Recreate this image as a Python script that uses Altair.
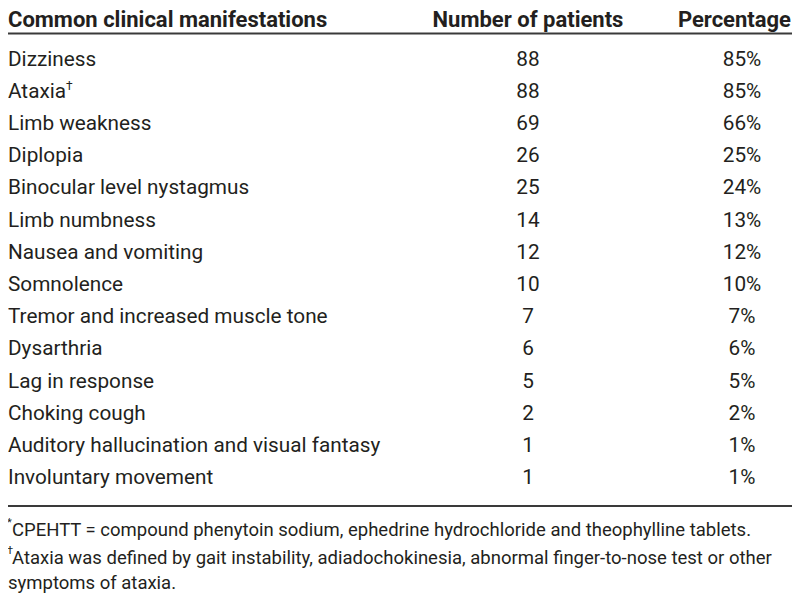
import altair as alt
import pandas as pd

# ---- data ----
headers = ["Common clinical manifestations", "Number of patients", "Percentage"]
manifestations = [
    "Dizziness", "Ataxia", "Limb weakness", "Diplopia", "Binocular level nystagmus",
    "Limb numbness", "Nausea and vomiting", "Somnolence",
    "Tremor and increased muscle tone", "Dysarthria", "Lag in response",
    "Choking cough", "Auditory hallucination and visual fantasy", "Involuntary movement",
]
patients = [88, 88, 69, 26, 25, 14, 12, 10, 7, 6, 5, 2, 1, 1]
percentages = ["85%", "85%", "66%", "25%", "24%", "13%", "12%", "10%", "7%", "6%", "5%", "2%", "1%", "1%"]
footnotes = [
    "CPEHTT = compound phenytoin sodium, ephedrine hydrochloride and theophylline tablets.",
    "Ataxia was defined by gait instability, adiadochokinesia, abnormal finger-to-nose test or other",
    "symptoms of ataxia.",
]
footnote_marks = ["*", "\u2020", ""]
footnote_rows = [14.612, 15.481, 16.258]
header_row = -1.242
rule_rows = [-0.807, 13.866]

W, H = 784, 587
FONT = "Roboto, Liberation Sans, sans-serif"
COLOR = "#231f20"

yscale = alt.Scale(domain=[-1.5994, 16.630], range=[0, H])

body = pd.DataFrame({
    "row": list(range(len(manifestations))),
    "name": manifestations,
    "n": [str(v) for v in patients],
    "pct": percentages,
})
hdr = pd.DataFrame({"row": [header_row] * 3, "text": headers, "col": [0, 1, 2]})
rules = pd.DataFrame({"row": rule_rows})
notes = pd.DataFrame({"row": footnote_rows, "text": footnotes, "mark": footnote_marks})

y = alt.Y("row:Q", scale=yscale, axis=None)

base_text = dict(font=FONT, color=COLOR, baseline="middle")
BODY_SIZE = 20.75
HEAD_SIZE = 22
NOTE_SIZE = 18.5

names = alt.Chart(body).mark_text(align="left", fontSize=BODY_SIZE, **base_text).encode(
    x=alt.value(0), y=y, text="name:N")
nums = alt.Chart(body).mark_text(align="center", fontSize=BODY_SIZE, **base_text).encode(
    x=alt.value(520), y=y, text="n:N")
pcts = alt.Chart(body).mark_text(align="center", fontSize=BODY_SIZE, **base_text).encode(
    x=alt.value(734), y=y, text="pct:N")

dagger = alt.Chart(body[body["row"] == 1]).mark_text(
    align="left", fontSize=12, dy=-6, **base_text).encode(
    x=alt.value(58), y=y, text=alt.value("\u2020"))

h0 = alt.Chart(hdr[hdr["col"] == 0]).mark_text(
    align="left", fontSize=HEAD_SIZE, fontWeight="bold", **base_text).encode(
    x=alt.value(0), y=y, text="text:N")
h1 = alt.Chart(hdr[hdr["col"] == 1]).mark_text(
    align="center", fontSize=HEAD_SIZE, fontWeight="bold", **base_text).encode(
    x=alt.value(520), y=y, text="text:N")
h2 = alt.Chart(hdr[hdr["col"] == 2]).mark_text(
    align="right", fontSize=HEAD_SIZE, fontWeight="bold", **base_text).encode(
    x=alt.value(783), y=y, text="text:N")

rule_layer = alt.Chart(rules).mark_rule(color="#3a3a3a", strokeWidth=2).encode(
    x=alt.value(0), x2=alt.value(W), y=y)

note_text = alt.Chart(notes).transform_filter("datum.mark != ''").mark_text(
    align="left", fontSize=NOTE_SIZE, **base_text).encode(
    x=alt.value(4), y=y, text="text:N")
note_text3 = alt.Chart(notes).transform_filter("datum.mark == ''").mark_text(
    align="left", fontSize=NOTE_SIZE, **base_text).encode(
    x=alt.value(0), y=y, text="text:N")
note_marks = alt.Chart(notes).transform_filter("datum.mark != ''").mark_text(
    align="left", fontSize=11, dy=-7, **base_text).encode(
    x=alt.value(-1), y=y, text="mark:N")

chart = alt.layer(
    rule_layer, h0, h1, h2, names, nums, pcts, dagger,
    note_text, note_text3, note_marks,
).properties(
    width=W, height=H, padding=0, autosize=alt.AutoSizeParams(type="none"),
    background="white",
).configure_view(stroke=None)

chart.save("out.html", embed_options={"renderer": "svg", "actions": False})
